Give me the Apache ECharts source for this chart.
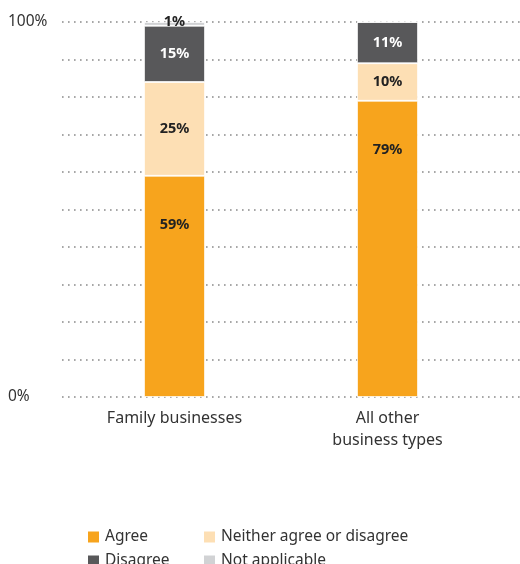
<!DOCTYPE html>
<html>
<head>
<meta charset="utf-8">
<style>
  html, body { margin: 0; padding: 0; background: #fff; }
  #chart { width: 520px; height: 564px; }
</style>
<script src="https://cdn.jsdelivr.net/npm/echarts@6/dist/echarts.min.js"></script>
</head>
<body>
<div id="chart"></div>
<script>
// Survey responses by business type (percent of respondents)
const categories = ['Family businesses', 'All other\nbusiness types'];
const agree = [59, 79];
const neither = [25, 10];
const disagree = [15, 11];
const notApplicable = [1, 0];
const yTickLabels = { 0: '0%', 100: '100%' };

const FONT = '"Noto Sans", "Open Sans", sans-serif';
const TEXT = '#333';

const chart = echarts.init(document.getElementById('chart'));

function segment(name, data, color, labelColor, labelOpts) {
  return {
    name: name,
    type: 'bar',
    stack: 'total',
    xAxisIndex: 1,
    yAxisIndex: 1,
    barWidth: 61,
    data: data,
    itemStyle: { color: color, borderColor: '#fff', borderWidth: 0.8 },
    label: Object.assign({
      show: true,
      position: 'inside',
      color: labelColor,
      fontFamily: FONT,
      fontWeight: 'bold',
      fontSize: 14.5,
      formatter: p => (p.value > 0 ? p.value + '%' : '')
    }, labelOpts || {})
  };
}

function legendColumn(left, names) {
  return {
    orient: 'vertical',
    left: left,
    top: 529,
    height: 60,
    padding: 0,
    itemWidth: 13,
    itemHeight: 13,
    itemGap: 8,
    icon: 'rect',
    textStyle: {
      color: TEXT,
      fontSize: 15.5,
      lineHeight: 13,
      fontFamily: FONT
    },
    data: names
  };
}

chart.setOption({
  animation: false,
  textStyle: { fontFamily: FONT },
  grid: [
    // full-width grid carrying the dotted guide lines and % labels
    { left: 62, right: 0, top: 22, bottom: 167 },
    // grid holding the two stacked columns
    { left: 68, right: 26, top: 22, bottom: 167 }
  ],
  xAxis: [
    { type: 'category', gridIndex: 0, data: ['a'], show: false },
    {
      type: 'category',
      gridIndex: 1,
      data: categories,
      axisLine: { show: false },
      axisTick: { show: false },
      axisLabel: {
        color: TEXT,
        fontSize: 16,
        lineHeight: 22,
        margin: 10,
        fontFamily: FONT
      }
    }
  ],
  yAxis: [
    {
      type: 'value',
      gridIndex: 0,
      min: 0,
      max: 100,
      interval: 10,
      axisLine: { show: false },
      axisTick: { show: false },
      splitLine: {
        show: true,
        lineStyle: { color: '#8a8a8a', width: 1.6, type: [1.6, 4.4] }
      },
      axisLabel: {
        align: 'left',
        margin: 54,
        padding: [4, 0, 0, 0],
        color: TEXT,
        fontSize: 15.5,
        fontFamily: FONT,
        formatter: v => yTickLabels[v] || ''
      }
    },
    {
      type: 'value',
      gridIndex: 1,
      min: 0,
      max: 100,
      show: false,
      splitLine: { show: false }
    }
  ],
  legend: [
    legendColumn(86, ['Agree', 'Disagree']),
    legendColumn(202, ['Neither agree or disagree', 'Not applicable'])
  ],
  series: [
    segment('Agree', agree, '#F7A41D', '#222', { position: 'insideTop', distance: 42 }),
    segment('Neither agree or disagree', neither, '#FDDFB4', '#222'),
    segment('Disagree', disagree, '#58585A', '#fff'),
    segment('Not applicable', notApplicable, '#D1D2D4', '#222', { offset: [0, -2] })
  ]
});
</script>
</body>
</html>
